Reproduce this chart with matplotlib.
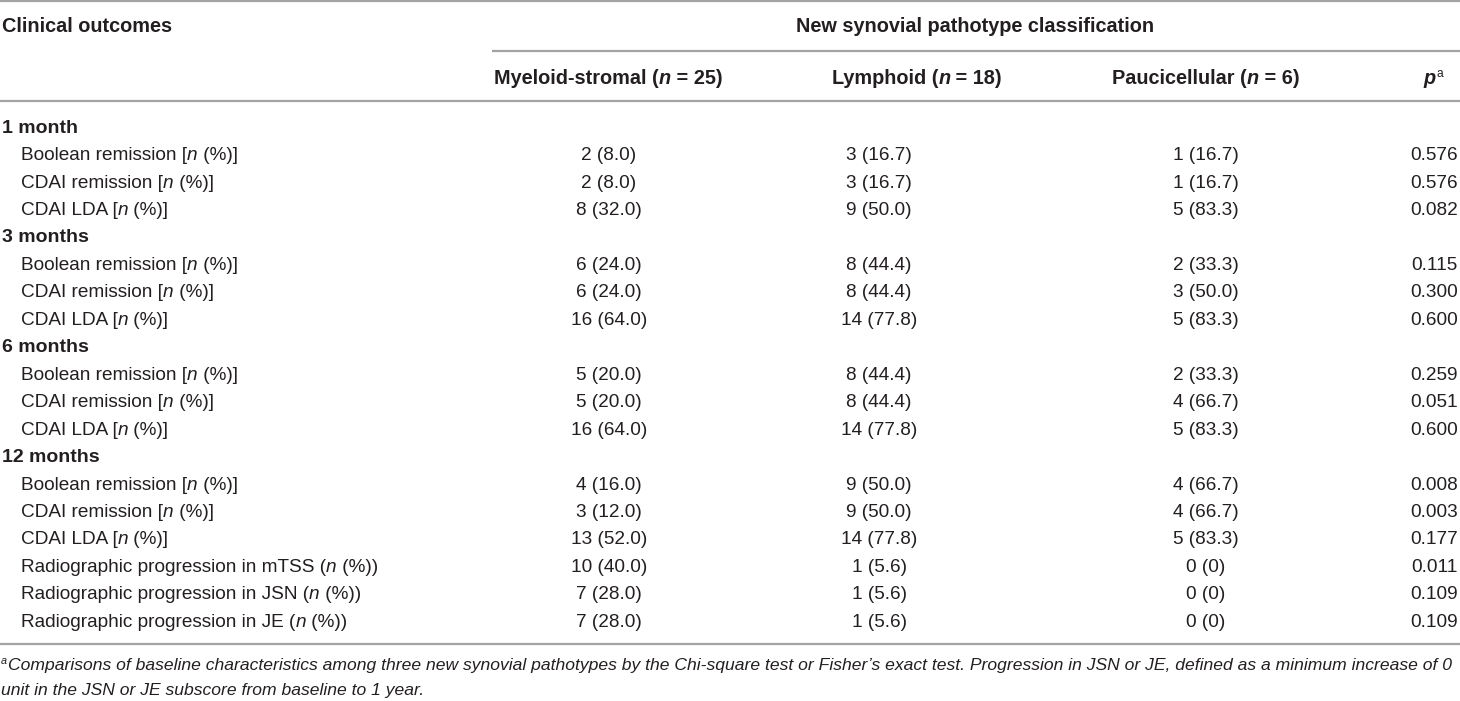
import matplotlib
matplotlib.use('Agg')
import matplotlib.pyplot as plt
from matplotlib import font_manager as fm

# ---------------- data ----------------
col_group = "New synovial pathotype classification"
first_header = "Clinical outcomes"
groups = ["Myeloid-stromal", "Lymphoid", "Paucicellular"]
group_n = [25, 18, 6]

sections = ["1 month", "3 months", "6 months", "12 months"]
section_sizes = [3, 3, 3, 6]
outcome_names = ["Boolean remission", "CDAI remission", "CDAI LDA",
                 "Boolean remission", "CDAI remission", "CDAI LDA",
                 "Boolean remission", "CDAI remission", "CDAI LDA",
                 "Boolean remission", "CDAI remission", "CDAI LDA",
                 "Radiographic progression in mTSS", "Radiographic progression in JSN",
                 "Radiographic progression in JE"]
outcome_bracket = ["[]"] * 12 + ["()"] * 3

myeloid = ["2 (8.0)", "2 (8.0)", "8 (32.0)", "6 (24.0)", "6 (24.0)", "16 (64.0)",
           "5 (20.0)", "5 (20.0)", "16 (64.0)", "4 (16.0)", "3 (12.0)", "13 (52.0)",
           "10 (40.0)", "7 (28.0)", "7 (28.0)"]
lymphoid = ["3 (16.7)", "3 (16.7)", "9 (50.0)", "8 (44.4)", "8 (44.4)", "14 (77.8)",
            "8 (44.4)", "8 (44.4)", "14 (77.8)", "9 (50.0)", "9 (50.0)", "14 (77.8)",
            "1 (5.6)", "1 (5.6)", "1 (5.6)"]
pauci = ["1 (16.7)", "1 (16.7)", "5 (83.3)", "2 (33.3)", "3 (50.0)", "5 (83.3)",
         "2 (33.3)", "4 (66.7)", "5 (83.3)", "4 (66.7)", "4 (66.7)", "5 (83.3)",
         "0 (0)", "0 (0)", "0 (0)"]
pvals = ["0.576", "0.576", "0.082", "0.115", "0.300", "0.600",
         "0.259", "0.051", "0.600", "0.008", "0.003", "0.177",
         "0.011", "0.109", "0.109"]

footnote1 = ("Comparisons of baseline characteristics among three new synovial pathotypes by the "
             "Chi-square test or Fisher\u2019s exact test. Progression in JSN or JE, defined as a "
             "minimum increase of 0")
footnote2 = "unit in the JSN or JE subscore from baseline to 1 year."

# ---------------- style ----------------
W, H = 1460, 701
DPI = 100
names = {f.name for f in fm.fontManager.ttflist}
BODY = "Liberation Sans" if "Liberation Sans" in names else "DejaVu Sans"
NARROW = "Liberation Sans Narrow" if "Liberation Sans Narrow" in names else BODY
TXT = "#231f20"
LINE = "#a3a3a3"
FS = 13.65         # body text, points
FSB = 14.3         # bold column headers
FSS = 14.0         # bold section headers

fig = plt.figure(figsize=(W / DPI, H / DPI), dpi=DPI)
ax = fig.add_axes([0, 0, 1, 1])
ax.set_xlim(0, W)
ax.set_ylim(H, 0)
ax.axis("off")
renderer = fig.canvas.get_renderer()

_cache = {}


def _w(s, props):
    t = ax.text(0, 0, s, **props)
    w = t.get_window_extent(renderer).width
    t.remove()
    return w


def width_of(s, props):
    key = tuple(sorted(props.items()))
    if key not in _cache:
        _cache[key] = _w("||", props)
    return _w("|" + s + "|", props) - _cache[key]


def runs(x, y, parts, ha="left"):
    """parts: list of (text, props, dy)"""
    full = []
    for p in parts:
        s, pr = p[0], p[1]
        dy = p[2] if len(p) > 2 else 0
        base = dict(family=BODY, fontsize=FS, color=TXT)
        base.update(pr)
        full.append((s, base, dy, width_of(s, base)))
    total = sum(f[3] for f in full)
    if ha == "center":
        x0 = x - total / 2
    elif ha == "right":
        x0 = x - total
    else:
        x0 = x
    for s, pr, dy, w in full:
        ax.text(x0, y + dy, s, va="baseline", ha="left", **pr)
        x0 += w


B = dict(weight="bold", fontsize=FSB)
BI = dict(weight="bold", style="italic", fontsize=FSB)
BS = dict(weight="bold", fontsize=FSS)
I = dict(style="italic")
OFF = 6.7  # center -> baseline

# ---------------- rules ----------------
ax.plot([0, W], [1, 1], color=LINE, lw=1.6, solid_capstyle="butt")
ax.plot([492, W], [51, 51], color=LINE, lw=1.6, solid_capstyle="butt")
ax.plot([0, W], [101, 101], color=LINE, lw=1.6, solid_capstyle="butt")
ax.plot([0, W], [644, 644], color=LINE, lw=1.6, solid_capstyle="butt")

# ---------------- header ----------------
runs(2, 25 + OFF, [(first_header, B)])
runs(975, 25 + OFF, [(col_group, B)], ha="center")
hdr_centers = [608, 917, 1206]
for g, n, cx in zip(groups, group_n, hdr_centers):
    runs(cx, 77 + OFF, [(g + " (", B), ("n", BI), (" = %d)" % n, B)], ha="center")
runs(1436, 77 + OFF, [("p", BI)], ha="right")
runs(1436.5, 77 + OFF, [("a", dict(fontsize=FS * 0.64), -7)], ha="left")

# ---------------- body ----------------
val_centers = [609, 879, 1206]
p_right = 1458
y0, dy = 126, 27.45
row = 0
k = 0
for sec, size in zip(sections, section_sizes):
    y = y0 + row * dy + OFF
    runs(2, y, [(sec, BS)])
    row += 1
    for _ in range(size):
        y = y0 + row * dy + OFF
        op, cl = outcome_bracket[k][0], outcome_bracket[k][1]
        runs(21, y, [(outcome_names[k] + " " + op, {}), ("n", I), (" (%)" + cl, {})])
        for col, cx in zip((myeloid, lymphoid, pauci), val_centers):
            runs(cx, y, [(col[k], {})], ha="center")
        runs(p_right, y, [(pvals[k], {})], ha="right")
        row += 1
        k += 1

# ---------------- footnote ----------------
fprops = dict(family=NARROW, fontsize=FS, color=TXT, style="italic")
w1 = width_of(footnote1, fprops)
sup_w = width_of("a", dict(family=NARROW, fontsize=FS * 0.62, color=TXT, style="italic"))
ffs = FS * (W - 4 - sup_w - 1) / w1
runs(1, 663 + OFF - 6, [("a", dict(family=NARROW, fontsize=ffs * 0.62, style="italic"))])
runs(1 + sup_w + 0.5, 663 + OFF, [(footnote1, dict(family=NARROW, fontsize=ffs, style="italic"))])
runs(1, 688 + OFF, [(footnote2, dict(family=NARROW, fontsize=ffs, style="italic"))])

fig.savefig("out.png", dpi=DPI)
